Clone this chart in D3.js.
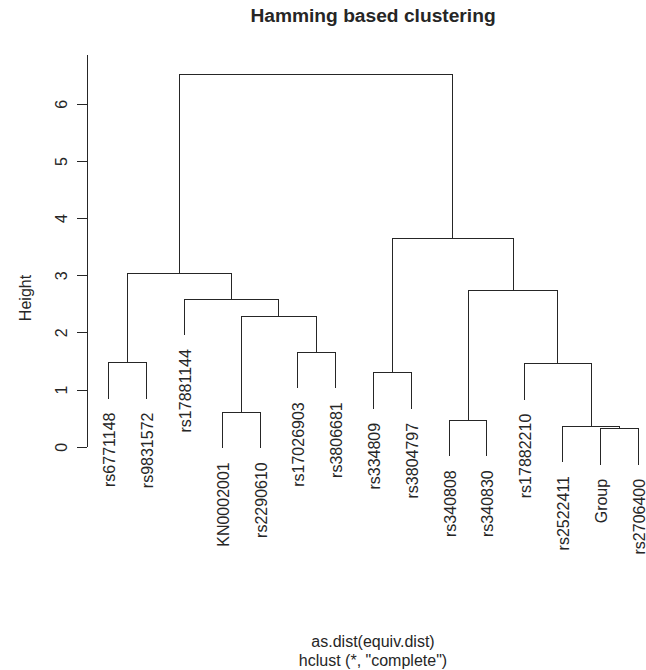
<!DOCTYPE html>
<html>
<head>
<meta charset="utf-8">
<script src="https://cdn.jsdelivr.net/npm/d3@7"></script>
<style>
  html, body { margin: 0; padding: 0; background: #fff; }
  svg { display: block; font-family: "Liberation Sans", Arial, Helvetica, sans-serif; }
</style>
</head>
<body>
<svg id="chart" width="646" height="670"></svg>
<script>
// Leaves in dendrogram order (left to right)
const leafLabels = ["rs6771148", "rs9831572", "rs17881144", "KN0002001", "rs2290610",
  "rs17026903", "rs3806681", "rs334809", "rs3804797", "rs340808", "rs340830",
  "rs17882210", "rs2522411", "Group", "rs2706400"];

// Merge steps, hclust style: negative = leaf (1-based position), positive = earlier merge
const mergeLeft  = [-14, -13, -10, -4, -8, -12, -1, -6, 4, -3, 3, 7, 5, 12];
const mergeRight = [-15,   1, -11, -5, -9,   2, -2, -7, 8,  9, 6, 10, 11, 13];
const mergeHeight = [0.32, 0.37, 0.47, 0.61, 1.30, 1.46, 1.48, 1.66, 2.28, 2.59, 2.75, 3.04, 3.66, 6.52];

const yTicks = [0, 1, 2, 3, 4, 5, 6];
const titleText = "Hamming based clustering";
const xLabelText = "as.dist(equiv.dist)";
const subText = 'hclust (*, "complete")';
const yLabelText = "Height";

const hang = 0.1 * (d3.max(mergeHeight) - d3.min(mergeHeight));

const svg = d3.select("#chart");
const ink = "#262626";

const x = d3.scaleLinear().domain([0.44, 15.56]).range([87, 659]);
const y = d3.scaleLinear().domain([0, 6.86]).range([446.7, 54.7]);
const px = v => Math.round(v) + 0.5;

// Node positions: leaves and merged clusters
function nodeInfo(ref) {
  if (ref < 0) return { pos: -ref, h: null };
  return clusters[ref - 1];
}
const clusters = [];
const segs = [];
mergeLeft.forEach((l, i) => {
  const r = mergeRight[i];
  const h = mergeHeight[i];
  const a = nodeInfo(l), b = nodeInfo(r);
  const ya = a.h === null ? h - hang : a.h;
  const yb = b.h === null ? h - hang : b.h;
  segs.push({ x1: a.pos, y1: ya, x2: b.pos, y2: yb, h });
  clusters.push({ pos: (a.pos + b.pos) / 2, h });
});

// Leaf bottoms for label placement
const leafBottom = new Array(leafLabels.length).fill(0);
mergeLeft.forEach((l, i) => {
  [l, mergeRight[i]].forEach(ref => {
    if (ref < 0) leafBottom[-ref - 1] = mergeHeight[i] - hang;
  });
});

svg.append("g")
  .attr("fill", "none")
  .attr("stroke", ink)
  .attr("stroke-width", 1)
  .attr("shape-rendering", "crispEdges")
  .selectAll("path")
  .data(segs)
  .join("path")
  .attr("d", s => `M${px(x(s.x1))},${px(y(s.y1))}V${px(y(s.h))}H${px(x(s.x2))}V${px(y(s.y2))}`);

// Leaf labels, rotated, hanging below each leaf
svg.append("g")
  .attr("font-size", 16)
  .attr("fill", ink)
  .selectAll("text")
  .data(leafLabels)
  .join("text")
  .attr("transform", (d, i) => `translate(${x(i + 1) + 7},${y(leafBottom[i]) + 15}) rotate(-90)`)
  .attr("text-anchor", "end")
  .text(d => d);

// Y axis
const axis = d3.axisLeft(y).tickValues(yTicks).tickSize(10).tickSizeOuter(0).tickFormat(d3.format("d"));
const ag = svg.append("g").attr("transform", "translate(86.5,0)").call(axis);
ag.select(".domain").attr("stroke", ink).attr("shape-rendering", "crispEdges");
ag.selectAll(".tick line").attr("stroke", ink).attr("shape-rendering", "crispEdges");
ag.selectAll(".tick text")
  .attr("fill", ink)
  .attr("font-size", 16)
  .attr("font-family", "Liberation Sans, Arial, sans-serif")
  .attr("x", null).attr("dy", null)
  .attr("text-anchor", "middle")
  .attr("transform", "translate(-20,0) rotate(-90)");

// Titles
svg.append("text")
  .attr("x", 373).attr("y", 22)
  .attr("text-anchor", "middle")
  .attr("font-size", 19.2).attr("font-weight", "bold")
  .attr("fill", ink)
  .text(titleText);

svg.append("text")
  .attr("x", 373).attr("y", 647)
  .attr("text-anchor", "middle")
  .attr("font-size", 16).attr("fill", ink)
  .text(xLabelText);

svg.append("text")
  .attr("x", 373).attr("y", 666)
  .attr("text-anchor", "middle")
  .attr("font-size", 16).attr("fill", ink)
  .text(subText);

svg.append("text")
  .attr("transform", "translate(31,298) rotate(-90)")
  .attr("text-anchor", "middle")
  .attr("font-size", 16).attr("fill", ink)
  .text(yLabelText);
</script>
</body>
</html>
